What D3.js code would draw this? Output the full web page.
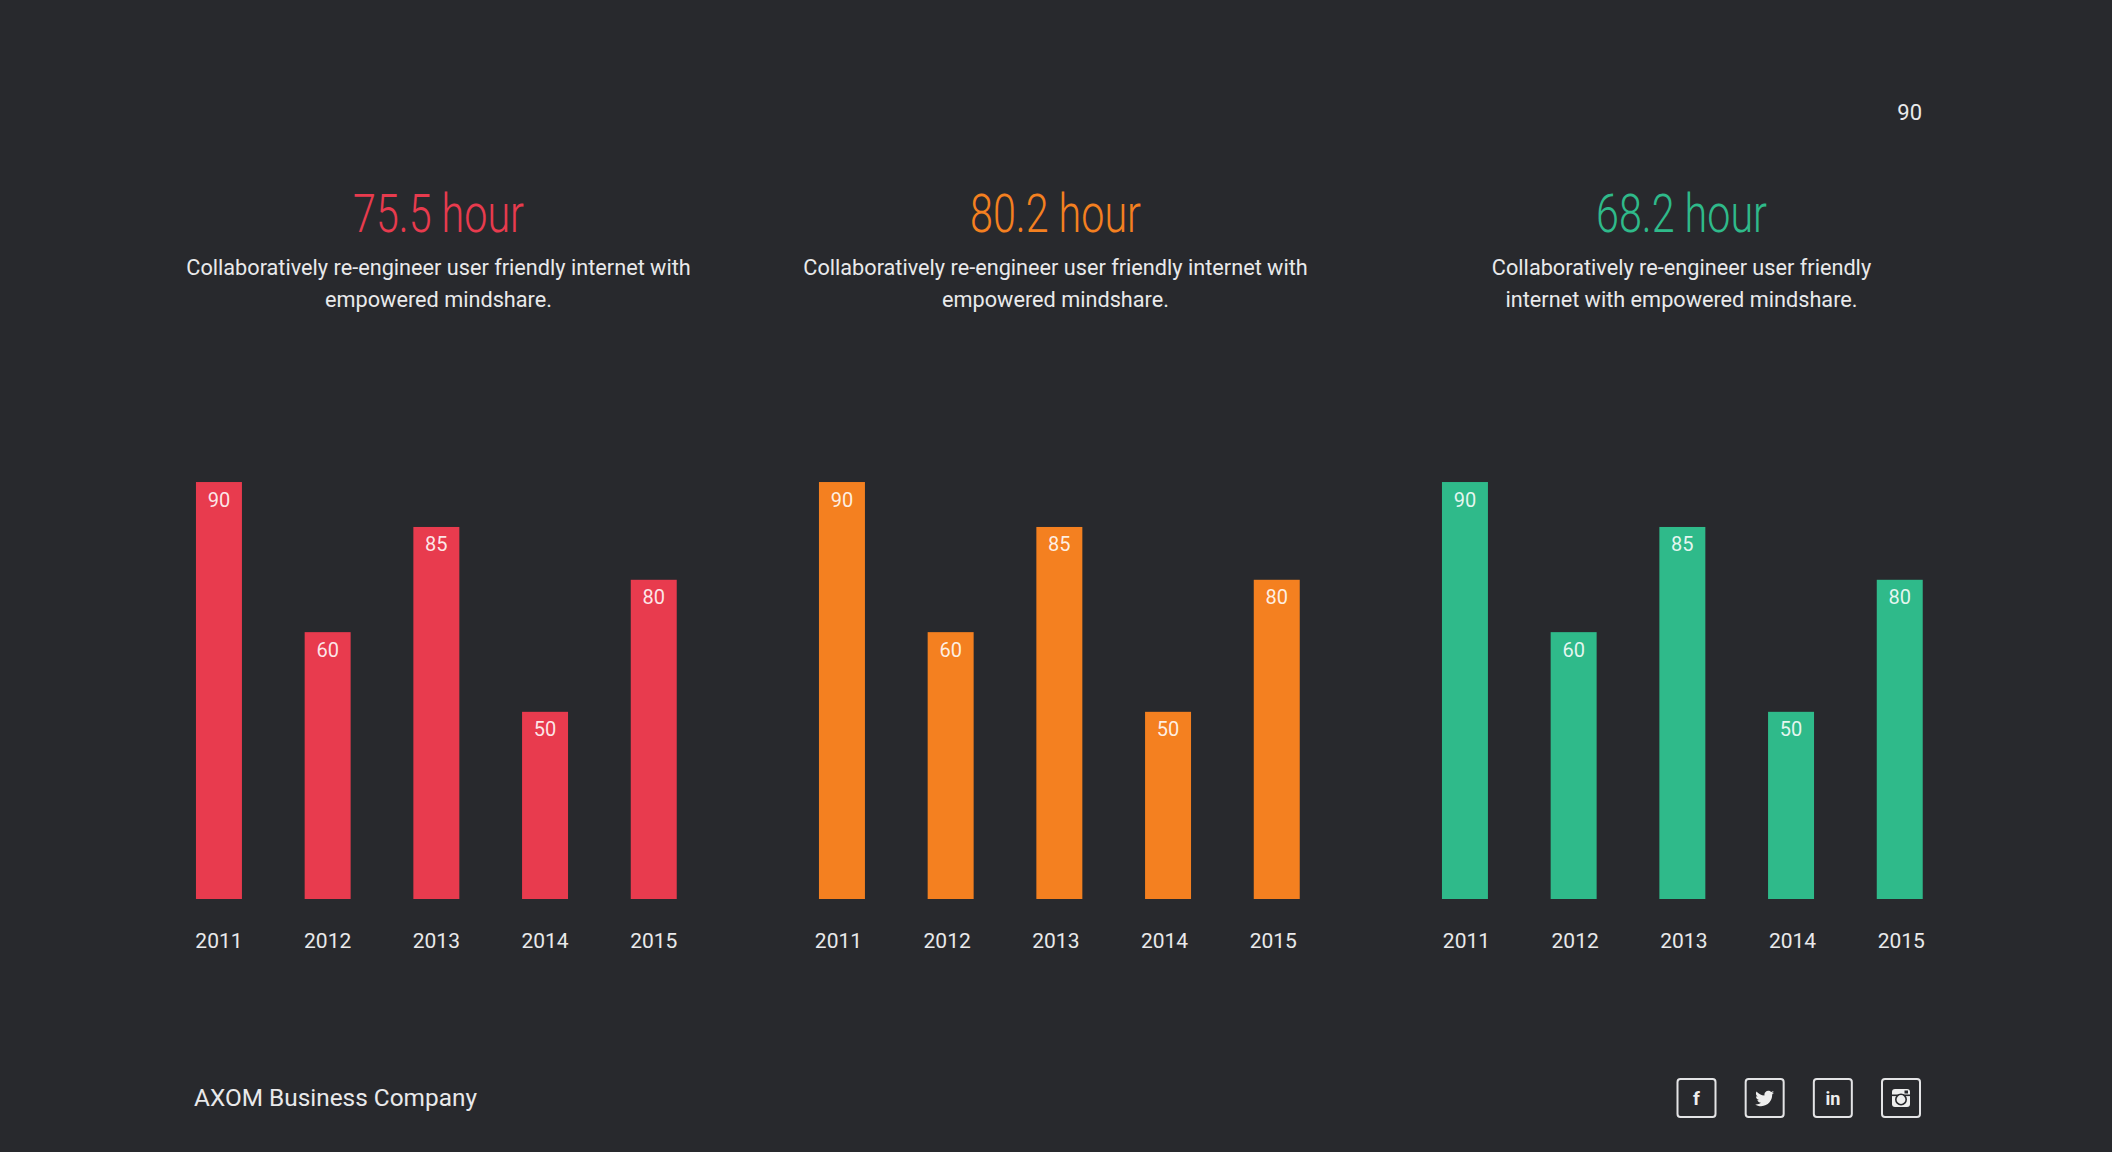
<!DOCTYPE html>
<html>
<head>
<meta charset="utf-8">
<script src="https://cdn.jsdelivr.net/npm/d3@7/dist/d3.min.js"></script>
<style>
  html, body { margin: 0; padding: 0; background: #28292d; }
  svg { display: block; font-family: Roboto, "Noto Sans", sans-serif; }
</style>
</head>
<body>
<svg id="chart" width="2112" height="1152"></svg>
<script>
// ---- data ----
const years = ["2011", "2012", "2013", "2014", "2015"];
const valueLabels = [90, 60, 85, 50, 80];            // numbers printed in the bars
const barLevels = [90, 57.6, 80.3, 40.4, 68.9];       // bar lengths as drawn (0–100 scale)
const panelTitles = ["75.5 hour", "80.2 hour", "68.2 hour"];
const panelColors = ["#e83b4e", "#f48020", "#2fba8a"];
const panelTexts = [
  ["Collaboratively re-engineer user friendly internet with", "empowered mindshare."],
  ["Collaboratively re-engineer user friendly internet with", "empowered mindshare."],
  ["Collaboratively re-engineer user friendly", "internet with empowered mindshare."]
];
const pageNumber = "90";
const companyName = "AXOM Business Company";
const socialIcons = ["facebook", "twitter", "linkedin", "instagram"];

// ---- layout (positions, not data) ----
const svg = d3.select("#chart");
const W = 2112, H = 1152;
svg.append("rect").attr("width", W).attr("height", H).attr("fill", "#28292d");

const textColor = "#e9e9eb";
const panelStep = 623;
const panelX0 = 164.6;
const panelW = 543.5;
const baseY = 899;
const headCenters = [438.5, 1055.5, 1681.5];
const yearShift = [0, -3.5, 1.5];

const y = d3.scaleLinear().domain([0, 100]).range([baseY, baseY - 463.3]);

panelTitles.forEach((title, p) => {
  const x0 = panelX0 + p * panelStep;
  const cx = headCenters[p];
  const g = svg.append("g");

  const x = d3.scaleBand().domain(years).range([x0, x0 + panelW])
    .paddingInner(0.577).paddingOuter(0.2885);

  // title
  g.append("text")
    .attr("x", cx).attr("y", 232)
    .attr("text-anchor", "middle")
    .attr("font-size", 53).attr("font-weight", 300)
    .attr("textLength", 171).attr("lengthAdjust", "spacingAndGlyphs")
    .attr("fill", panelColors[p])
    .text(title);

  // description
  g.selectAll("text.desc").data(panelTexts[p]).enter().append("text")
    .attr("class", "desc")
    .attr("x", cx).attr("y", (d, i) => 275 + i * 32)
    .attr("text-anchor", "middle")
    .attr("font-size", 21.7)
    .attr("fill", textColor)
    .text(d => d);

  const data = years.map((yr, i) => ({ yr, level: barLevels[i], label: valueLabels[i] }));

  g.selectAll("rect.bar").data(data).enter().append("rect")
    .attr("class", "bar")
    .attr("x", d => x(d.yr)).attr("width", x.bandwidth())
    .attr("y", d => y(d.level)).attr("height", d => y(0) - y(d.level))
    .attr("fill", panelColors[p]);

  g.selectAll("text.val").data(data).enter().append("text")
    .attr("class", "val")
    .attr("x", d => x(d.yr) + x.bandwidth() / 2)
    .attr("y", d => y(d.level) + 24.5)
    .attr("text-anchor", "middle")
    .attr("font-size", 20)
    .attr("fill", "#ffffff").attr("fill-opacity", 0.88)
    .text(d => d.label);

  // x axis (year labels)
  const axis = d3.axisBottom(x).tickSize(0).tickPadding(0);
  const ag = g.append("g").attr("transform", `translate(${yearShift[p]},${baseY})`).call(axis);
  ag.select(".domain").remove();
  ag.selectAll("text")
    .attr("y", 49).attr("dy", null)
    .attr("font-size", 21).attr("font-family", "Roboto, sans-serif")
    .attr("fill", textColor);
});

// page number
svg.append("text").attr("x", 1922).attr("y", 120)
  .attr("text-anchor", "end").attr("font-size", 22)
  .attr("fill", textColor).text(pageNumber);

// footer
svg.append("text").attr("x", 194).attr("y", 1106)
  .attr("font-size", 24.4).attr("fill", textColor).text(companyName);

// social icons
const sx = d3.scalePoint().domain(socialIcons).range([1696.5, 1901]);
const iconY = 1098;
const ig = svg.selectAll("g.icon").data(socialIcons).enter().append("g")
  .attr("class", "icon")
  .attr("transform", d => `translate(${sx(d)},${iconY})`);
ig.append("rect").attr("x", -19).attr("y", -19).attr("width", 38).attr("height", 38)
  .attr("rx", 3).attr("fill", "none").attr("stroke", "#e4e4e6").attr("stroke-width", 2);

ig.filter(d => d === "facebook").append("text")
  .attr("text-anchor", "middle").attr("y", 7).attr("font-size", 19).attr("font-weight", 700)
  .attr("fill", "#eeeeee").text("f");
ig.filter(d => d === "linkedin").append("text")
  .attr("text-anchor", "middle").attr("y", 6.5).attr("font-size", 18).attr("font-weight", 700)
  .attr("fill", "#eeeeee").text("in");
ig.filter(d => d === "twitter").append("path")
  .attr("transform", "translate(-9.5,-9) scale(0.037)")
  .attr("fill", "#eeeeee")
  .attr("d", "M459.37 151.716c.325 4.548.325 9.097.325 13.645 0 138.72-105.583 298.558-298.558 298.558-59.452 0-114.68-17.219-161.137-47.106 8.447.974 16.568 1.299 25.34 1.299 49.055 0 94.213-16.568 130.274-44.832-46.132-.975-84.792-31.188-98.112-72.772 6.498.974 12.995 1.624 19.818 1.624 9.421 0 18.843-1.3 27.614-3.573-48.081-9.747-84.143-51.98-84.143-102.985v-1.299c13.969 7.797 30.214 12.67 47.431 13.319-28.264-18.843-46.781-51.005-46.781-87.391 0-19.492 5.197-37.36 14.294-52.954 51.655 63.675 129.3 105.258 216.365 109.807-1.624-7.797-2.599-15.918-2.599-24.04 0-57.828 46.782-104.934 104.934-104.934 30.213 0 57.502 12.67 76.67 33.137 23.715-4.548 46.456-13.32 66.599-25.34-7.798 24.366-24.366 44.833-46.132 57.827 21.117-2.273 41.584-8.122 60.426-16.243-14.292 20.791-32.161 39.308-52.628 54.253z");
const insta = ig.filter(d => d === "instagram");
insta.append("rect").attr("x", -9).attr("y", -9).attr("width", 18).attr("height", 18)
  .attr("rx", 3).attr("fill", "#eeeeee");
insta.append("rect").attr("x", -9).attr("y", -3.5).attr("width", 18).attr("height", 1.6)
  .attr("fill", "#28292d");
insta.append("circle").attr("cx", 0).attr("cy", 1.5).attr("r", 5.2)
  .attr("fill", "#eeeeee").attr("stroke", "#28292d").attr("stroke-width", 1.6);
insta.append("circle").attr("cx", 0).attr("cy", 1.5).attr("r", 2.6).attr("fill", "#eeeeee");
insta.append("rect").attr("x", 3.5).attr("y", -7.5).attr("width", 3.5).attr("height", 3)
  .attr("fill", "#28292d");
</script>
</body>
</html>
